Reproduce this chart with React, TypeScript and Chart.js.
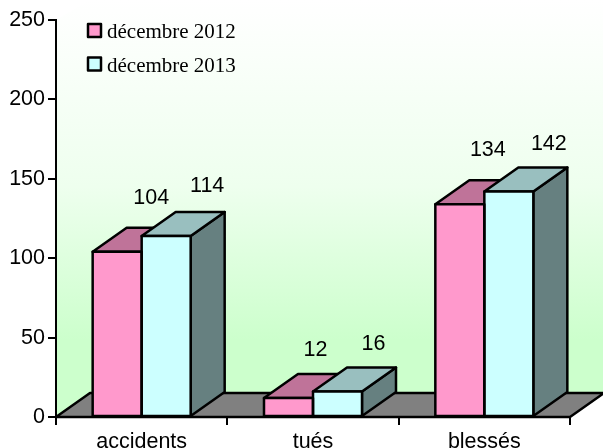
import React, { useEffect, useRef } from "react";
import { Chart, registerables } from "chart.js";

Chart.register(...registerables);

const categories = ["accidents", "tués", "blessés"];
const seriesNames = ["décembre 2012", "décembre 2013"];
const values2012 = [104, 12, 134];
const values2013 = [114, 16, 142];

const DX = 34;
const DY = -24;
const LINE = 2.5;
const FRONT = ["#FF99CC", "#CCFFFF"];
const TOP = ["#BF7399", "#99BFBF"];
const SIDE = ["#804D66", "#668080"];
const LABEL_DX = [[34, 27, 28], [41, 36, 40]];
const LABEL_DY = [[-54, -48, -54], [-50, -48, -47]];
const INK = "#000000";

function poly(ctx: CanvasRenderingContext2D, pts: number[][], fill: string) {
  ctx.beginPath();
  pts.forEach((p, i) => (i ? ctx.lineTo(p[0], p[1]) : ctx.moveTo(p[0], p[1])));
  ctx.closePath();
  ctx.fillStyle = fill;
  ctx.fill();
  ctx.lineWidth = LINE;
  ctx.strokeStyle = INK;
  ctx.lineJoin = "round";
  ctx.stroke();
}

const scene = {
  id: "scene",
  beforeDraw(chart: any) {
    const { ctx, chartArea: a } = chart;
    const g = ctx.createLinearGradient(0, 0, 0, 340);
    g.addColorStop(0, "#FFFFFF");
    g.addColorStop(0.55, "#EEFFEE");
    g.addColorStop(1, "#CCFFCC");
    ctx.save();
    ctx.fillStyle = g;
    ctx.beginPath();
    ctx.moveTo(a.left, a.bottom);
    ctx.lineTo(a.left, a.top);
    ctx.lineTo(a.left + DX, 0);
    ctx.lineTo(a.right + DX, 0);
    ctx.lineTo(a.right + DX, a.bottom + DY);
    ctx.lineTo(a.left + DX, a.bottom + DY);
    ctx.closePath();
    ctx.fill();
    ctx.restore();
  },
  beforeDatasetsDraw(chart: any) {
    const { ctx, chartArea: a } = chart;
    ctx.save();
    poly(ctx, [[a.left, a.bottom], [a.left + DX, a.bottom + DY], [a.right + DX, a.bottom + DY], [a.right, a.bottom]], "#808080");
    chart.data.datasets.forEach((_: any, d: number) => {
      chart.getDatasetMeta(d).data.forEach((bar: any) => {
        const l = bar.x - bar.width / 2;
        const r = bar.x + bar.width / 2;
        const t = bar.y;
        const b = bar.base;
        poly(ctx, [[r, t], [r + DX, t + DY], [r + DX, b + DY], [r, b]], SIDE[d]);
        poly(ctx, [[l, t], [l + DX, t + DY], [r + DX, t + DY], [r, t]], TOP[d]);
      });
    });
    ctx.restore();
  },
  afterDatasetsDraw(chart: any) {
    const { ctx, chartArea: a } = chart;
    ctx.save();
    ctx.strokeStyle = INK;
    ctx.lineWidth = LINE;
    ctx.lineJoin = "round";
    chart.data.datasets.forEach((_: any, d: number) => {
      chart.getDatasetMeta(d).data.forEach((bar: any) => {
        ctx.strokeRect(bar.x - bar.width / 2, bar.y, bar.width, bar.base - bar.y);
      });
    });
    ctx.fillStyle = INK;
    ctx.font = "21.5px 'Liberation Sans'";
    ctx.textAlign = "center";
    ctx.textBaseline = "middle";
    chart.data.datasets.forEach((ds: any, d: number) => {
      chart.getDatasetMeta(d).data.forEach((bar: any, i: number) => {
        ctx.fillText(String(ds.data[i]), bar.x + LABEL_DX[d][i], bar.y + LABEL_DY[d][i]);
      });
    });
    ctx.font = "21px 'Liberation Serif'";
    ctx.textAlign = "left";
    ctx.textBaseline = "alphabetic";
    chart.data.datasets.forEach((ds: any, d: number) => {
      const y = 24 + d * 33.5;
      ctx.fillStyle = FRONT[d];
      ctx.fillRect(88, y, 13, 13);
      ctx.strokeRect(88, y, 13, 13);
      ctx.fillStyle = INK;
      ctx.fillText(ds.label, 107, y + 14);
    });
    ctx.restore();
  },
};

export default function App() {
  const ref = useRef<HTMLCanvasElement>(null);
  useEffect(() => {
    const font = { family: "'Liberation Sans'", size: 21.5 };
    const chart = new Chart(ref.current!, {
      type: "bar",
      data: {
        labels: categories,
        datasets: [values2012, values2013].map((data, i) => ({
          label: seriesNames[i],
          data,
          backgroundColor: FRONT[i],
          borderWidth: 0,
          categoryPercentage: 0.572,
          barPercentage: 1,
        })),
      },
      options: {
        animation: false,
        responsive: false,
        layout: { padding: { left: 0, top: 20, right: 33, bottom: 0 } },
        plugins: { legend: { display: false }, tooltip: { enabled: false } },
        scales: {
          x: {
            grid: { drawOnChartArea: false, color: INK, lineWidth: 2, tickLength: 8 },
            border: { color: INK, width: 2 },
            ticks: { color: INK, font, padding: 4, maxRotation: 0 },
            afterFit: (s: any) => { s.height = 31; },
          },
          y: {
            min: 0,
            max: 250,
            grid: { drawOnChartArea: false, color: INK, lineWidth: 2, tickLength: 8 },
            border: { color: INK, width: 2 },
            ticks: { color: INK, font, padding: 3, stepSize: 50 },
            afterFit: (s: any) => { s.width = 56; },
          },
        },
      },
      plugins: [scene],
    } as any);
    return () => chart.destroy();
  }, []);
  return (
    <>
      <style>{"body{margin:0}"}</style>
      <canvas ref={ref} width={603} height={448} style={{ display: "block", width: 603, height: 448 }} />
    </>
  );
}
